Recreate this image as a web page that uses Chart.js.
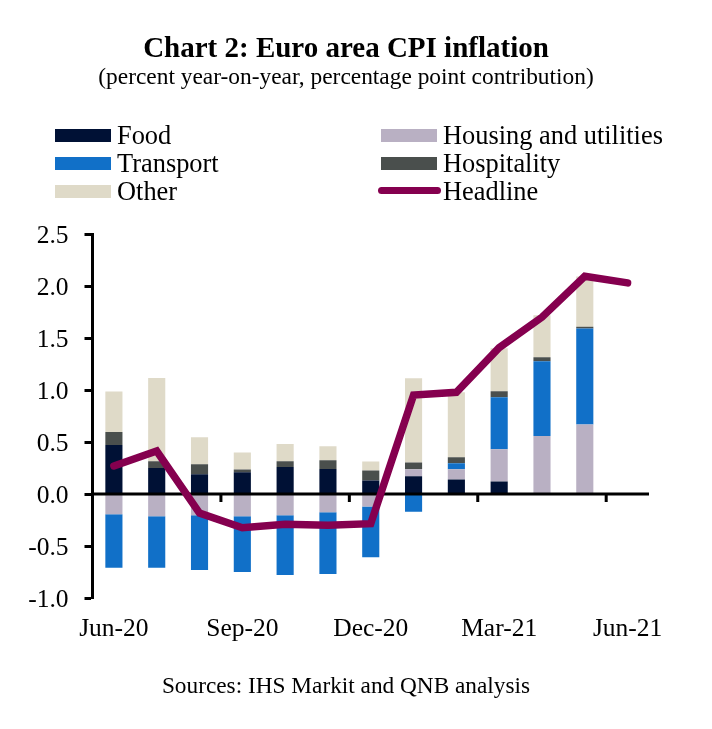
<!DOCTYPE html>
<html>
<head>
<meta charset="utf-8">
<title>Euro area CPI inflation</title>
<script src="https://cdn.jsdelivr.net/npm/chart.js"></script>
<style>
  html, body { margin: 0; padding: 0; background: #fff; }
  body { width: 712px; height: 729px; position: relative; overflow: hidden; font-family: "Liberation Serif", serif; color: #000; }
  canvas { position: absolute; left: 0; top: 0; }
  .title { position: absolute; left: 0; width: 692px; top: 30px; text-align: center; font-size: 29px; font-weight: bold; line-height: 34px; }
  .subtitle { position: absolute; left: 0; width: 692px; top: 63px; text-align: center; font-size: 23.4px; line-height: 26px; }
  .source { position: absolute; left: 0; width: 692px; top: 672px; text-align: center; font-size: 23.3px; line-height: 26px; }
  .legend-item { position: absolute; height: 28px; font-size: 26.4px; line-height: 28px; white-space: nowrap; }
  .legend-item i { position: absolute; left: 0; top: 8px; width: 56px; height: 13px; }
  .legend-item i.line { left: -3px; top: 10px; width: 63px; height: 7px; border-radius: 3.5px; }
  .legend-item span { position: absolute; left: 62px; top: 0; }
</style>
</head>
<body>
<canvas id="chart" width="712" height="729"></canvas>
<div class="title">Chart 2: Euro area CPI inflation</div>
<div class="subtitle">(percent year-on-year, percentage point contribution)</div>
<div id="legend"></div>
<div class="source">Sources: IHS Markit and QNB analysis</div>
<script>
// --------- Data ---------
const categories = ["Jun-20", "Jul-20", "Aug-20", "Sep-20", "Oct-20", "Nov-20", "Dec-20", "Jan-21", "Feb-21", "Mar-21", "Apr-21", "May-21", "Jun-21"];
const food = [0.47, 0.25, 0.19, 0.21, 0.26, 0.24, 0.13, 0.17, 0.14, 0.12, 0, 0.005, null];
const housing = [-0.195, -0.215, -0.205, -0.215, -0.205, -0.176, -0.12, 0.067, 0.097, 0.31, 0.558, 0.663, null];
const transport = [-0.515, -0.495, -0.525, -0.535, -0.575, -0.594, -0.487, -0.17, 0.058, 0.5, 0.718, 0.923, null];
const hospitality = [0.125, 0.065, 0.095, 0.025, 0.055, 0.085, 0.096, 0.067, 0.058, 0.058, 0.038, 0.016, null];
const other = [0.39, 0.8, 0.26, 0.165, 0.165, 0.135, 0.086, 0.808, 0.625, 0.413, 0.404, 0.484, null];
const headline = [0.27, 0.413, -0.183, -0.325, -0.29, -0.3, -0.285, 0.952, 0.978, 1.407, 1.7, 2.093, 2.03];
const yTicks = ["-1.0", "-0.5", "0.0", "0.5", "1.0", "1.5", "2.0", "2.5"];

const colors = {
  food: "#001135",
  housing: "#B9B0C3",
  transport: "#1170C8",
  hospitality: "#4A4F4D",
  other: "#DFDAC8",
  headline: "#85004F"
};

const barSeries = [
  { label: "Food", data: food, color: colors.food },
  { label: "Housing and utilities", data: housing, color: colors.housing },
  { label: "Transport", data: transport, color: colors.transport },
  { label: "Hospitality", data: hospitality, color: colors.hospitality },
  { label: "Other", data: other, color: colors.other }
];

// --------- Legend (two columns, filled row by row) ---------
const legendEntries = [
  ["Food", colors.food, 55, 121],
  ["Housing and utilities", colors.housing, 381, 121],
  ["Transport", colors.transport, 55, 149],
  ["Hospitality", colors.hospitality, 381, 149],
  ["Other", colors.other, 55, 177],
  ["Headline", colors.headline, 381, 177, true]
];
const legendBox = document.getElementById("legend");
legendEntries.forEach(([text, color, x, y, isLine]) => {
  const item = document.createElement("div");
  item.className = "legend-item";
  item.style.left = x + "px";
  item.style.top = y + "px";
  item.innerHTML = `<i class="${isLine ? "line" : ""}" style="background:${color}"></i><span>${text}</span>`;
  legendBox.appendChild(item);
});

// --------- Zero line with tick marks between the quarters ---------
const zeroAxis = {
  id: "zeroAxis",
  beforeDatasetDraw(chart, args) {
    if (chart.data.datasets[args.index].type !== "line") return;
    const { ctx, scales: { x, y } } = chart;
    const y0 = y.getPixelForValue(0);
    const step = x.getPixelForValue(1) - x.getPixelForValue(0);
    ctx.save();
    ctx.strokeStyle = "#000";
    ctx.lineWidth = 3;
    ctx.beginPath();
    ctx.moveTo(x.left, y0);
    ctx.lineTo(x.right, y0);
    for (let i = 3; i < categories.length; i += 3) {
      const tx = x.getPixelForValue(i) - step / 2;
      ctx.moveTo(tx, y0);
      ctx.lineTo(tx, y0 + 8);
    }
    ctx.stroke();
    ctx.restore();
  }
};

// --------- Chart ---------
new Chart(document.getElementById("chart"), {
  data: {
    labels: categories,
    datasets: [
      ...barSeries.map(s => ({
        type: "bar",
        label: s.label,
        data: s.data,
        backgroundColor: s.color,
        stack: "contrib",
        barPercentage: 0.4,
        categoryPercentage: 1,
        order: 1
      })),
      {
        type: "line",
        label: "Headline",
        data: headline,
        borderColor: colors.headline,
        borderWidth: 7.5,
        borderCapStyle: "round",
        borderJoinStyle: "miter",
        pointRadius: 0,
        tension: 0,
        order: 0
      }
    ]
  },
  options: {
    responsive: false,
    animation: false,
    devicePixelRatio: 1,
    layout: { padding: { top: 234, right: 63, bottom: 0, left: 0 } },
    plugins: { legend: { display: false }, title: { display: false }, tooltip: { enabled: false } },
    scales: {
      x: {
        stacked: true,
        afterFit: s => { s.height = 131; },
        border: { display: false },
        grid: { display: false, drawTicks: false },
        ticks: {
          autoSkip: false,
          maxRotation: 0,
          padding: 16,
          color: "#000",
          font: { family: "Liberation Serif", size: 25.5 },
          callback: (v, i) => (i % 3 === 0 ? categories[i] : "")
        }
      },
      y: {
        stacked: true,
        min: -1,
        max: 2.5,
        afterFit: s => { s.width = 92.5; },
        afterBuildTicks: s => { s.ticks = yTicks.map(t => ({ value: Number(t) })); },
        border: { display: true, color: "#000", width: 3 },
        grid: { drawOnChartArea: false, drawTicks: true, tickLength: 8, tickWidth: 3, tickColor: "#000" },
        ticks: {
          padding: 16,
          labelOffset: 2,
          color: "#000",
          font: { family: "Liberation Serif", size: 25.5 },
          callback: v => v.toFixed(1)
        }
      }
    }
  },
  plugins: [zeroAxis]
});
</script>
</body>
</html>
